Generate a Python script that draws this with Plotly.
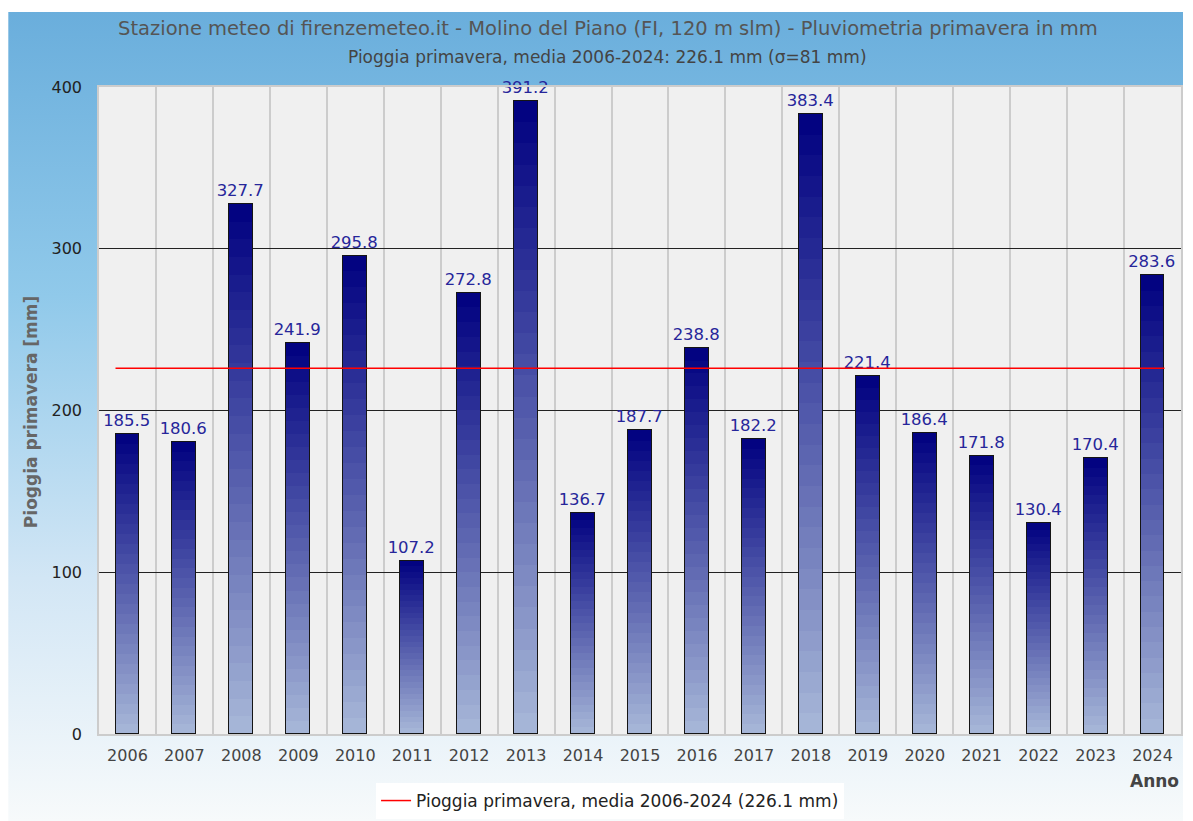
import base64
import plotly.graph_objects as go

# ---- data ----
years = [str(y) for y in range(2006, 2025)]
rain_mm = [185.5, 180.6, 327.7, 241.9, 295.8, 107.2, 272.8, 391.2, 136.7, 187.7,
           238.8, 182.2, 383.4, 221.4, 186.4, 171.8, 130.4, 170.4, 283.6]
mean_mm = 226.1
sigma_mm = 81

title_main = "Stazione meteo di firenzemeteo.it - Molino del Piano (FI, 120 m slm) - Pluviometria primavera in mm"
title_sub = f"Pioggia primavera, media 2006-2024: {mean_mm} mm (σ={sigma_mm} mm)"
legend_name = f"Pioggia primavera, media 2006-2024 ({mean_mm} mm)"

# ---- geometry (figure pixels; page body adds an 8px offset) ----
OFF = 8
W, H = 1177, 813
L, R, T, B = 91, 2, 79, 87
pw, ph = W - L - R, H - T - B
bar_w = 0.42
n = len(years)
idx = list(range(n))

FONT = "DejaVu Sans"

def px_x(sx):
    return (sx - OFF - L) / pw

def px_y(sy):
    return (H - B - (sy - OFF)) / ph

fig = go.Figure()

# gradient bars built from stacked slices
N = 30
top = (0, 0, 128)
bot = (168, 184, 216)
for i in range(N):
    f = (i + 0.5) / N  # 0 bottom -> 1 top
    c = tuple(round(bot[k] + (top[k] - bot[k]) * f) for k in range(3))
    fig.add_trace(go.Bar(
        x=years, y=[v / N for v in rain_mm], width=bar_w,
        marker=dict(color=f"rgb{c}", line=dict(width=0)),
        showlegend=False, hoverinfo="skip",
    ))

# outline + labels on overlaid numeric axis
fig.add_trace(go.Bar(
    x=idx, y=rain_mm, width=bar_w, xaxis="x2",
    marker=dict(color="rgba(0,0,0,0)", line=dict(color="#151515", width=1.5)),
    text=[f"{v:.1f}" for v in rain_mm], textposition="outside", constraintext="none",
    textfont=dict(family=FONT, size=16.5, color="#26269a"),
    cliponaxis=False, showlegend=False, hoverinfo="skip",
))

# mean line
fig.add_trace(go.Scatter(
    x=[idx[0] - bar_w / 2, idx[-1] + bar_w / 2], y=[mean_mm, mean_mm], xaxis="x2",
    mode="lines", line=dict(color="#ff0000", width=1.5), name=legend_name,
))

# background gradient image
svg = ('<svg xmlns="http://www.w3.org/2000/svg" width="100" height="100" viewBox="0 0 100 100" '
       'preserveAspectRatio="none"><defs><linearGradient id="g" x1="0" y1="0" x2="0" y2="1">'
       '<stop offset="0" stop-color="#6aaedc"/><stop offset="0.35" stop-color="#90c9ea"/>'
       '<stop offset="0.7" stop-color="#d2e6f5"/><stop offset="1" stop-color="#f7fafb"/>'
       '</linearGradient></defs><rect width="100" height="100" fill="url(#g)"/></svg>')
src = "data:image/svg+xml;base64," + base64.b64encode(svg.encode()).decode()

fig.update_layout(
    width=W, height=H,
    margin=dict(l=L, r=R, t=T, b=B),
    paper_bgcolor="white", plot_bgcolor="#f0f0f0",
    barmode="stack", bargap=0,
    font=dict(family=FONT, size=16, color="#333"),
    images=[dict(source=src, xref="paper", yref="paper",
                 x=-L / pw, y=(H - B - 4) / ph, sizex=W / pw, sizey=(H - 4) / ph,
                 xanchor="left", yanchor="top", sizing="stretch", layer="below")],
    shapes=[dict(type="rect", xref="paper", yref="paper", x0=0, x1=1, y0=0, y1=1,
                 fillcolor="#f0f0f0", line=dict(width=0), layer="below")],
    xaxis=dict(type="category", range=[-0.5, n - 0.5], tickson="boundaries",
               showgrid=True, gridcolor="#cccccc", gridwidth=1.5,
               showline=True, linecolor="#cccccc", linewidth=1.5, mirror=True,
               ticks="", ticklabelstandoff=6,
               tickfont=dict(family=FONT, size=16, color="#444"), fixedrange=True),
    xaxis2=dict(overlaying="x", range=[-0.5, n - 0.5], visible=False, fixedrange=True),
    yaxis=dict(range=[0, 400], dtick=100, showgrid=True, gridcolor="#222222", gridwidth=1,
               zeroline=False, showline=True, linecolor="#cccccc", linewidth=1.5, mirror=True,
               ticks="", ticklabelstandoff=12,
               tickfont=dict(family=FONT, size=16, color="#222"), fixedrange=True),
    legend=dict(orientation="h", x=px_x(611), xanchor="center", y=px_y(783), yanchor="top",
                bgcolor="white", borderwidth=0,
                font=dict(family=FONT, size=17, color="#222")),
    annotations=[
        dict(text=title_main, xref="paper", yref="paper", x=px_x(609), y=px_y(28),
             xanchor="center", yanchor="middle", showarrow=False,
             font=dict(family=FONT, size=19.5, color="#555")),
        dict(text=title_sub, xref="paper", yref="paper", x=px_x(608), y=px_y(57),
             xanchor="center", yanchor="middle", showarrow=False,
             font=dict(family=FONT, size=17, color="#444")),
        dict(text="<b>Pioggia primavera [mm]</b>", xref="paper", yref="paper",
             x=px_x(31), y=px_y(412), xanchor="center", yanchor="middle", textangle=-90,
             showarrow=False, font=dict(family=FONT, size=17, color="#666")),
        dict(text="<b>Anno</b>", xref="paper", yref="paper", x=px_x(1156), y=px_y(781),
             xanchor="center", yanchor="middle", showarrow=False,
             font=dict(family=FONT, size=17, color="#444")),
    ],
)

fig.write_html("out.html")
